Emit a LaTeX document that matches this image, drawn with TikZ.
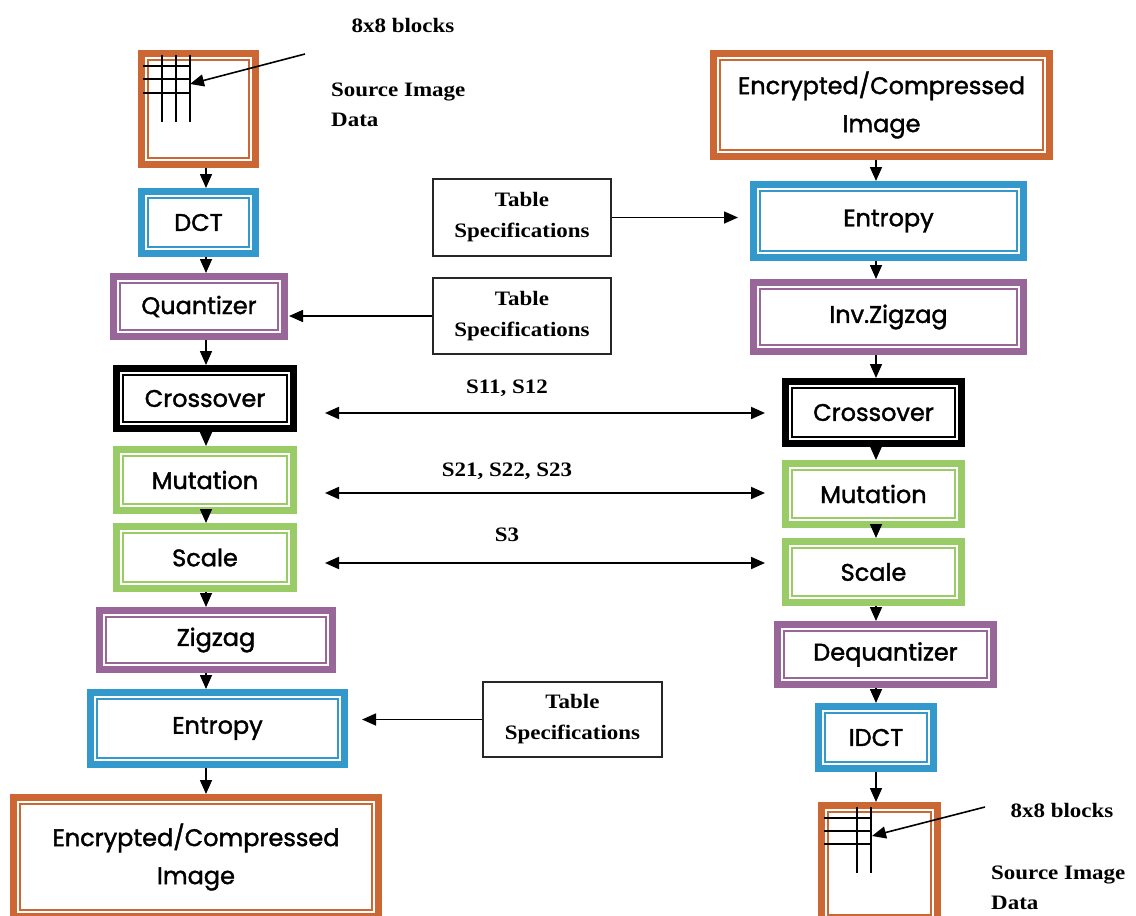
\documentclass[tikz,border=0pt]{standalone}
\usepackage{fontspec}
\usetikzlibrary{arrows.meta}
\newfontfamily\boxfont{Poppins}[FakeBold=1.6]
\newfontfamily\labfont{Liberation Serif}[FakeStretch=1.12]
\definecolor{frameorange}{RGB}{204,102,51}
\definecolor{frameblue}{RGB}{51,153,204}
\definecolor{framepurple}{RGB}{153,102,153}
\definecolor{framegreen}{RGB}{153,204,102}
\tikzset{
  frame/.style={draw=#1, line width=7pt, outer sep=3.5pt, inner sep=0pt,
    fill=white, align=center,
    font=\boxfont\fontsize{24}{38}\selectfont,
    path picture={\draw[#1, line width=1.6pt]
      ([shift={(6.3,6.3)}]path picture bounding box.north west) rectangle
      ([shift={(-6.3,-6.3)}]path picture bounding box.south east);}},
  specbox/.style={draw=black!85, line width=1.3pt, inner sep=0pt, align=center,
    font=\labfont\bfseries\fontsize{20.5}{31}\selectfont},
  lab/.style={font=\labfont\bfseries\fontsize{20.5}{30}\selectfont, inner sep=0pt},
  flow/.style={line width=1.6pt, -{Triangle[length=14pt,width=12pt]}},
  twoway/.style={line width=2pt, {Triangle[length=14pt,width=12pt]}-{Triangle[length=14pt,width=12pt]}},
  gridline/.style={line width=1.7pt}
}
\begin{document}
\begin{tikzpicture}[x=1pt, y=-1pt]
\useasboundingbox (0,0) rectangle (1136,916);
\clip (0,0) rectangle (1136,916);

% column axes for the vertical flow arrows
\coordinate (lcol) at (206,0);
\coordinate (rcol) at (876,0);

% ---------------- encoder (left column) ----------------
\node[frame=frameorange, minimum width=114, minimum height=111] (srcL) at (198.5,109) {};
\node[frame=frameblue,   minimum width=114, minimum height=62]  (dctL) at (198.5,222.5) {DCT};
\node[frame=framepurple, minimum width=171, minimum height=60]  (quanL) at (199,306.5) {Quantizer};
\node[frame=black,       minimum width=177, minimum height=60]  (crossL) at (205,398.5) {Crossover};
\node[frame=framegreen,  minimum width=177, minimum height=61]  (mutL) at (205,480) {Mutation};
\node[frame=framegreen,  minimum width=177, minimum height=62]  (scaleL) at (205,557.5) {Scale};
\node[frame=framepurple, minimum width=233, minimum height=59]  (zigL) at (216,640) {Zigzag};
\node[frame=frameblue,   minimum width=254, minimum height=72]  (entL) at (217.5,728.5) {Entropy};
\node[frame=frameorange, minimum width=365, minimum height=119] (encL) at (196,857) {Encrypted/Compressed\\Image};

% 8x8 block grid in the source image
\foreach \gx in {162,176,190} \draw[gridline] (\gx,55) -- (\gx,122);
\foreach \gy in {66,79,93} \draw[gridline] (143,\gy) -- (190,\gy);
\coordinate (gridL) at (190,84);
\coordinate (pointL) at (305,54);
\draw[flow] (pointL) -- (gridL);
\node[lab, anchor=base] (blocksL) at (403,32) {8x8 blocks};
\node[lab, anchor=north west, align=left] (dataL) at (331,83) {Source Image\\Data};

% ---------------- decoder (right column) ----------------
\node[frame=frameorange, minimum width=336, minimum height=103] (encR) at (881.5,105) {Encrypted/Compressed\\Image};
\node[frame=frameblue,   minimum width=270, minimum height=73]  (entR) at (888.5,221) {Entropy};
\node[frame=framepurple, minimum width=270, minimum height=69]  (invzR) at (888.5,317) {Inv.Zigzag};
\node[frame=black,       minimum width=176, minimum height=62]  (crossR) at (873.5,412.5) {Crossover};
\node[frame=framegreen,  minimum width=176, minimum height=61]  (mutR) at (873.5,494) {Mutation};
\node[frame=framegreen,  minimum width=176, minimum height=61]  (scaleR) at (873.5,572) {Scale};
\node[frame=framepurple, minimum width=216, minimum height=60]  (deqR) at (885.5,654.5) {Dequantizer};
\node[frame=frameblue,   minimum width=115, minimum height=62]  (idctR) at (876,737.5) {IDCT};
\node[frame=frameorange, minimum width=116, minimum height=116] (srcR) at (879.5,863.5) {};

\foreach \gx in {857,871} \draw[gridline] (\gx,807) -- (\gx,873);
\foreach \gy in {818,831,844} \draw[gridline] (824,\gy) -- (871,\gy);
\coordinate (gridR) at (872,836);
\coordinate (pointR) at (985,807);
\draw[flow] (pointR) -- (gridR);
\node[lab, anchor=base] (blocksR) at (1062,817) {8x8 blocks};
\node[lab, anchor=north west, align=left] (dataR) at (991,866) {Source Image\\Data};

% ---------------- table specifications ----------------
\node[specbox, minimum width=178, minimum height=77] (ts1) at (522,217.5) {Table\\Specifications};
\node[specbox, minimum width=178, minimum height=76] (ts2) at (522,316) {Table\\Specifications};
\node[specbox, minimum width=179, minimum height=75] (ts3) at (572.5,719.5) {Table\\Specifications};

\draw[flow, shorten >=12pt] (ts1.east) -- (ts1.east -| entR.west);
\draw[flow, shorten >=1pt] (ts2.west) -- (ts2.west -| quanL.east);
\draw[flow, shorten >=14pt] (ts3.west) -- (ts3.west -| entL.east);

% ---------------- vertical flow ----------------
\foreach \a/\b in {srcL/dctL, dctL/quanL, quanL/crossL, crossL/mutL, mutL/scaleL,
                   scaleL/zigL, zigL/entL, entL/encL}
  \draw[flow] (\a.south -| lcol) -- (\b.north -| lcol);
\foreach \a/\b in {encR/entR, entR/invzR, invzR/crossR, crossR/mutR, mutR/scaleR,
                   scaleR/deqR, deqR/idctR, idctR/srcR}
  \draw[flow] (\a.south -| rcol) -- (\b.north -| rcol);

% ---------------- shared keys ----------------
\coordinate (k1) at (0,413);
\coordinate (k2) at (0,493);
\coordinate (k3) at (0,563);
\draw[twoway, shorten <=28pt, shorten >=17pt] (crossL.east |- k1) -- (crossR.west |- k1);
\draw[twoway, shorten <=28pt, shorten >=17pt] (mutL.east |- k2) -- (mutR.west |- k2);
\draw[twoway, shorten <=28pt, shorten >=17pt] (scaleL.east |- k3) -- (scaleR.west |- k3);
\node[lab, anchor=base] (key1) at (507,393) {S11, S12};
\node[lab, anchor=base] (key2) at (507,476) {S21, S22, S23};
\node[lab, anchor=base] (key3) at (507,541) {S3};
\end{tikzpicture}
\end{document}
